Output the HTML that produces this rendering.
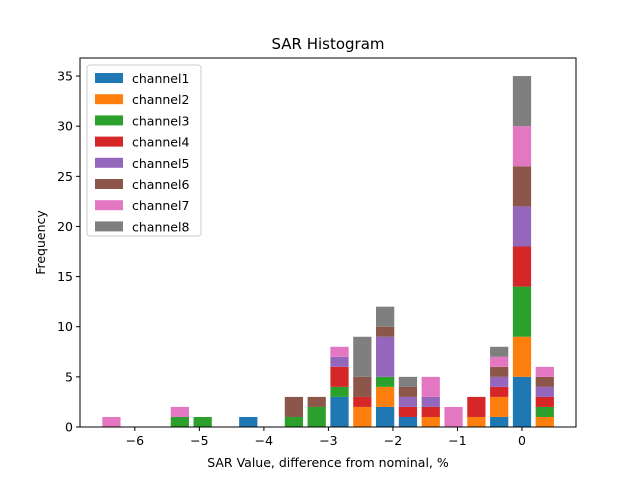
<!DOCTYPE html>
<html><head><meta charset="utf-8"><style>
body{margin:0;background:#fff;font-family:"Liberation Sans","DejaVu Sans",sans-serif;}
svg text{font-family:"DejaVu Sans","Liberation Sans",sans-serif;}
</style></head><body>
<svg id="chart" width="640" height="480" xmlns="http://www.w3.org/2000/svg">
<rect width="640" height="480" fill="#fff"/>
<g id="marks"></g>
<g id="axes"></g>
</svg>
<script>
const binIndex = [-18,-17,-16,-15,-14,-13,-12,-11,-10,-9,-8,-7,-6,-5,-4,-3,-2,-1,0,1];
const binWidth = 0.3535;
const seriesNames = ["channel1","channel2","channel3","channel4","channel5","channel6","channel7","channel8"];
const ch1 = [0,0,0,0,0,0,1,0,0,0,3,0,2,1,0,0,0,1,5,0];
const ch2 = [0,0,0,0,0,0,0,0,0,0,0,2,2,0,1,0,1,2,4,1];
const ch3 = [0,0,0,1,1,0,0,0,1,2,1,0,1,0,0,0,0,0,5,1];
const ch4 = [0,0,0,0,0,0,0,0,0,0,2,1,0,1,1,0,2,1,4,1];
const ch5 = [0,0,0,0,0,0,0,0,0,0,1,0,4,1,1,0,0,1,4,1];
const ch6 = [0,0,0,0,0,0,0,0,2,1,0,2,1,1,0,0,0,1,4,1];
const ch7 = [1,0,0,1,0,0,0,0,0,0,1,0,0,0,2,2,0,1,4,1];
const ch8 = [0,0,0,0,0,0,0,0,0,0,0,4,2,1,0,0,0,1,5,0];
const xTicks = [-6,-5,-4,-3,-2,-1,0];
const yTicks = [0,5,10,15,20,25,30,35];
const colors = ["#1f77b4","#ff7f0e","#2ca02c","#d62728","#9467bd","#8c564b","#e377c2","#7f7f7f"];
const series = [ch1,ch2,ch3,ch4,ch5,ch6,ch7,ch8];

const L=80,R=576,T=58,B=427;
const xMin=-6.85,xMax=0.837,yMin=0,yMax=36.8;
const xs=v=>L+(v-xMin)/(xMax-xMin)*(R-L);
const ys=v=>B-(v-yMin)/(yMax-yMin)*(B-T);
const NS="http://www.w3.org/2000/svg";
function mk(tag,attrs,parent){const e=document.createElementNS(NS,tag);for(const k in attrs)e.setAttribute(k,attrs[k]);parent.appendChild(e);return e;}
const marks=document.getElementById('marks'), axes=document.getElementById('axes');
const cum=binIndex.map(()=>0);
series.forEach((s,si)=>{
  s.forEach((v,i)=>{
    if(v<=0)return;
    const c=binIndex[i]*binWidth, hw=binWidth*0.4;
    const x0=xs(c-hw),x1=xs(c+hw);
    const r=mk('rect',{x:x0,y:ys(cum[i]+v),width:x1-x0,height:ys(cum[i])-ys(cum[i]+v),fill:colors[si]},marks);
    
    
    cum[i]+=v;
  });
});
const frame=mk('rect',{x:L,y:T,width:R-L,height:B-T,fill:'none',stroke:'#000','stroke-width':1},axes);


xTicks.forEach(t=>{
  const x=xs(t);
  mk('line',{x1:x,x2:x,y1:B,y2:B+4,stroke:'#000'},axes);
  const tx=mk('text',{x:x,y:B+18,'font-size':12.5,'text-anchor':'middle'},axes);
  tx.textContent=(t<0?'\u2212'+(-t):String(t));
  
  
});
yTicks.forEach(t=>{
  const y=ys(t);
  mk('line',{x1:L-4,x2:L,y1:y,y2:y,stroke:'#000'},axes);
  const tx=mk('text',{x:L-7,y:y+4.5,'font-size':12.5,'text-anchor':'end'},axes);
  tx.textContent=String(t);
  
  
});
const title=mk('text',{x:(L+R)/2,y:49,'font-size':15,'text-anchor':'middle'},axes);
title.textContent='SAR Histogram';


const xl=mk('text',{x:(L+R)/2,y:467,'font-size':12.5,'text-anchor':'middle'},axes);
xl.textContent='SAR Value, difference from nominal, %';


const yl=mk('text',{x:0,y:0,'font-size':12.5,'text-anchor':'middle',transform:'translate(45,'+((T+B)/2)+') rotate(-90)'},axes);
yl.textContent='Frequency';


const lg=mk('g',{},axes);


mk('rect',{x:87,y:65,width:114,height:171,rx:3,fill:'#fff','fill-opacity':0.8,stroke:'#ccc'},lg);
seriesNames.forEach((n,i)=>{
  const y=75+i*21.2;
  const sw=mk('rect',{x:95,y:y-2,width:28,height:10,fill:colors[i]},lg);
  
  
  const t=mk('text',{x:132,y:y+8,'font-size':12.5},lg);
  t.textContent=n;
  
  
});
</script>
</body></html>
